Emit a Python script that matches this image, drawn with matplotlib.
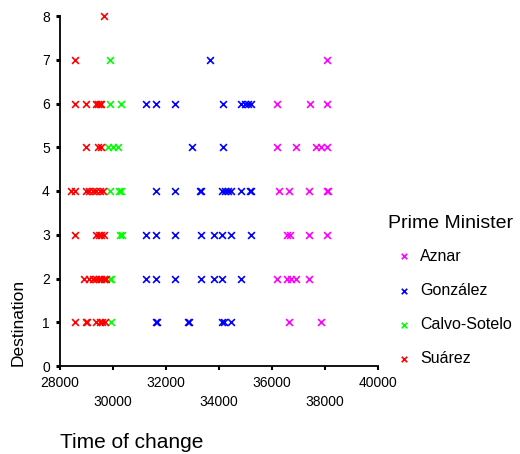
import matplotlib
matplotlib.use('Agg')
from matplotlib import pyplot as plt

plt.rcParams['font.family'] = ['Liberation Sans', 'DejaVu Sans']

# time of change / destination for each prime minister
aznar_time = [38080,
              36200, 37430, 38080,
              36200, 36920, 37680, 37870, 38060,
              36260, 36650, 37400, 38060, 38120,
              36570, 36670, 37400, 38060,
              36200, 36590, 36740, 36920, 37400,
              36650, 37870]
aznar_dest = [7,
              6, 6, 6,
              5, 5, 5, 5, 5,
              4, 4, 4, 4, 4,
              3, 3, 3, 3,
              2, 2, 2, 2, 2,
              1, 1]

gonzalez_time = [33660,
                 31270, 31650, 32370, 34160, 34850, 34980, 35100, 35230,
                 32990, 34160,
                 31650, 32370, 33280, 33340, 34130, 34220, 34350, 34470, 34850, 35160, 35230,
                 31270, 31650, 32370, 33320, 33810, 34130, 34470, 35200,
                 31270, 31650, 32370, 33320, 33810, 34130, 34850,
                 31650, 31670, 32840, 32880, 34130, 34180, 34470]
gonzalez_dest = [7,
                 6, 6, 6, 6, 6, 6, 6, 6,
                 5, 5,
                 4, 4, 4, 4, 4, 4, 4, 4, 4, 4, 4,
                 3, 3, 3, 3, 3, 3, 3, 3,
                 2, 2, 2, 2, 2, 2, 2,
                 1, 1, 1, 1, 1, 1, 1]

calvo_time = [29920,
              29920, 30310,
              29820, 30010, 30200,
              29910, 30260, 30330,
              30290, 30340,
              29890, 29950,
              29950]
calvo_dest = [7,
              6, 6,
              5, 5, 5,
              4, 4, 4,
              3, 3,
              2, 2,
              1]

suarez_time = [29660,
               28600,
               28600, 28980, 29360, 29450, 29510, 29570,
               28980, 29450, 29570,
               28440, 28570, 28980, 29130, 29260, 29380, 29510, 29630,
               28600, 29380, 29480, 29570, 29660,
               28940, 29110, 29260, 29380, 29480, 29570, 29660, 29760,
               28600, 28980, 29040, 29360, 29510, 29610, 29700]
suarez_dest = [8,
               7,
               6, 6, 6, 6, 6, 6,
               5, 5, 5,
               4, 4, 4, 4, 4, 4, 4, 4,
               3, 3, 3, 3, 3,
               2, 2, 2, 2, 2, 2, 2, 2,
               1, 1, 1, 1, 1, 1, 1]

names = ['Aznar', 'González', 'Calvo-Sotelo', 'Suárez']
colors = ['#ff00ff', '#0000ff', '#00ff00', '#ff0000']
times = [aznar_time, gonzalez_time, calvo_time, suarez_time]
dests = [aznar_dest, gonzalez_dest, calvo_dest, suarez_dest]

x_major = [28000, 32000, 36000, 40000]
x_minor = [30000, 34000, 38000]

fig = plt.figure(figsize=(5.2, 4.54), dpi=100)
ax = fig.add_axes([59.5/520, 1-366/454, 318.5/520, 350/454])

for t, d, c, n in zip(times, dests, colors, names):
    ax.scatter(t, d, marker='x', s=24, linewidths=1.2, color=c, label=n, clip_on=False)

ax.set_xlim(28000, 40000)
ax.set_ylim(0, 8)
ax.spines['top'].set_visible(False)
ax.spines['right'].set_visible(False)
ax.spines['left'].set_linewidth(1.3)
ax.spines['bottom'].set_linewidth(1.3)

ax.set_xticks(x_major, labels=[str(v) for v in x_major])
ax.set_xticks(x_minor, labels=[str(v) for v in x_minor], minor=True)
ax.set_yticks(range(9))
ax.tick_params(axis='x', which='both', length=3, width=1.5, labelsize=10, pad=4)
ax.tick_params(axis='x', which='minor', pad=18)
ax.tick_params(axis='y', length=3, width=2.2, labelsize=10, pad=4)

fig.text(18/520, 1-322/454, 'Destination', rotation=90, ha='center', va='center', fontsize=12.5)
fig.text(60/520, 1-443/454, 'Time of change', ha='left', va='center', fontsize=15)

leg = ax.legend(loc='upper left', bbox_to_anchor=(388/520, 1-215/454), bbox_transform=fig.transFigure,
                frameon=False, title='Prime Minister', title_fontsize=14, fontsize=11.5,
                alignment='left', labelspacing=1.2, handletextpad=0.0, handlelength=2.0,
                borderaxespad=0, borderpad=0, markerscale=0.8)
leg._legend_box.sep = 12

fig.savefig('out.png', dpi=100)
